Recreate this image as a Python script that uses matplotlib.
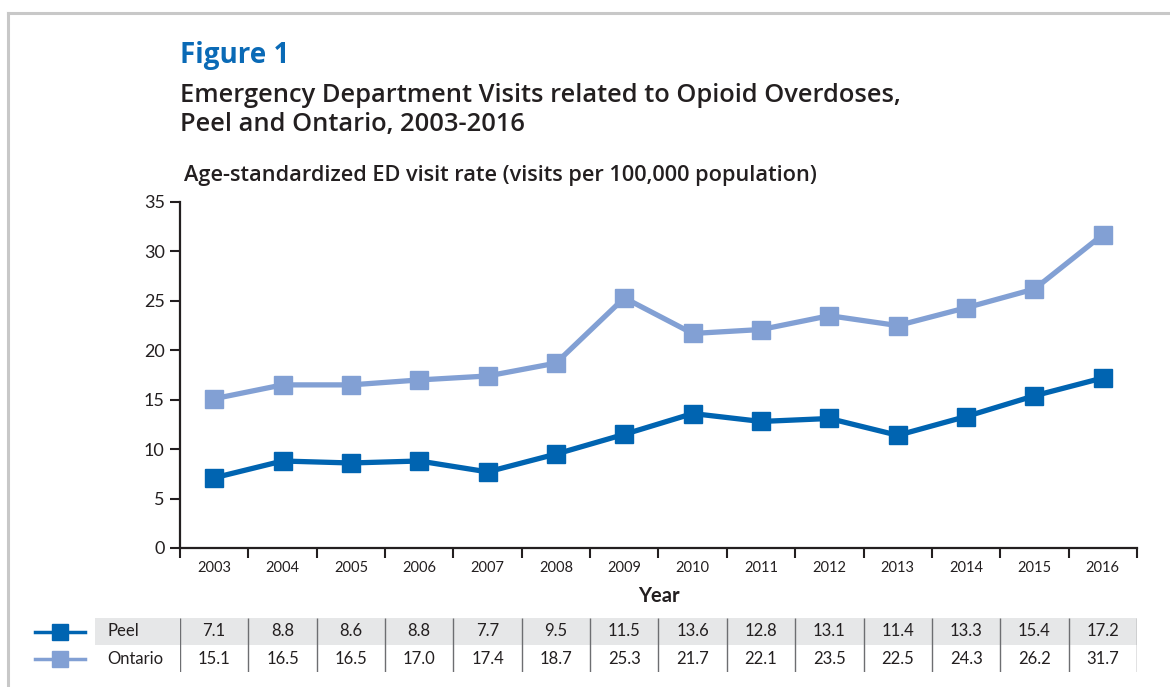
import matplotlib.pyplot as plt
from matplotlib.lines import Line2D
from matplotlib.patches import Rectangle

years = ["2003", "2004", "2005", "2006", "2007", "2008", "2009",
         "2010", "2011", "2012", "2013", "2014", "2015", "2016"]
peel = [7.1, 8.8, 8.6, 8.8, 7.7, 9.5, 11.5, 13.6, 12.8, 13.1, 11.4, 13.3, 15.4, 17.2]
ontario = [15.1, 16.5, 16.5, 17.0, 17.4, 18.7, 25.3, 21.7, 22.1, 23.5, 22.5, 24.3, 26.2, 31.7]
yticks = [0, 5, 10, 15, 20, 25, 30, 35]

PEEL_C = "#0064b1"
ONT_C = "#82a0d4"
DARK = "#231f20"
W, H = 1170, 687

plt.rcParams["font.family"] = ["Lato", "DejaVu Sans"]
HEAD = ["Open Sans", "DejaVu Sans"]

fig = plt.figure(figsize=(W / 100, H / 100), dpi=100)

# frame lines along the top and left
fig.add_artist(Line2D([8 / W, 1], [1 - 13 / H, 1 - 13 / H], color="#c8c8c8", lw=2.2))
fig.add_artist(Line2D([8 / W, 8 / W], [0, 1 - 13 / H], color="#c8c8c8", lw=2.2))

fig.text(180 / W, 1 - 55 / H, "Figure 1", color="#0a6ab6", fontsize=20,
         fontweight="bold", va="center", family=HEAD)
fig.text(180 / W, 1 - 96 / H, "Emergency Department Visits related to Opioid Overdoses,",
         color=DARK, fontsize=18.4, fontweight="semibold", va="center", family=HEAD)
fig.text(180 / W, 1 - 125 / H, "Peel and Ontario, 2003-2016",
         color=DARK, fontsize=18.4, fontweight="semibold", va="center", family=HEAD)
fig.text(184 / W, 1 - 176 / H, "Age-standardized ED visit rate (visits per 100,000 population)",
         color=DARK, fontsize=15.7, fontweight="semibold", va="center", family=HEAD)

ax = fig.add_axes([180 / W, 1 - 548 / H, 957 / W, 346 / H])
x = list(range(len(years)))
ax.plot(x, ontario, color=ONT_C, lw=3.8, marker="s", ms=12.5, clip_on=False, zorder=3)
ax.plot(x, peel, color=PEEL_C, lw=3.8, marker="s", ms=12.5, clip_on=False, zorder=4)

ax.set_xlim(-0.5, len(years) - 0.5)
ax.set_ylim(0, 35)
ax.set_yticks(yticks)
ax.set_xticks(x, years)
ax.set_xticks([i - 0.5 for i in range(len(years) + 1)], minor=True)
ax.tick_params(axis="x", which="major", length=0, pad=9, labelsize=10.5, labelcolor=DARK)
ax.tick_params(axis="x", which="minor", length=7, width=1.5, color=DARK, direction="out")
ax.tick_params(axis="y", length=7, width=1.5, color=DARK, pad=4, labelsize=13, labelcolor=DARK)
for s in ["top", "right"]:
    ax.spines[s].set_visible(False)
for s in ["left", "bottom"]:
    ax.spines[s].set_color(DARK)
    ax.spines[s].set_linewidth(1.6)
ax.set_xlabel("Year", fontsize=14.5, fontweight="bold", color=DARK, labelpad=8)

# data table under the chart, columns aligned with the years
tab = fig.add_axes([180 / W, 1 - 672 / H, 957 / W, 54 / H], sharex=ax)
tab.set_ylim(0, 2)
tab.axis("off")
lab_left = (95 - 180) / 68.36 - 0.5
tab.add_patch(Rectangle((lab_left, 1), len(years) - 0.5 - lab_left, 1,
                        facecolor="#e6e7e8", edgecolor="none", clip_on=False, zorder=0))
tab.vlines([i - 0.5 for i in range(len(years) + 1)], 0, 2, color="#6d6e71", lw=1, zorder=1)

rows = [("Peel", peel, PEEL_C, 1.5), ("Ontario", ontario, ONT_C, 0.5)]
key_x0 = (35 - 180) / 68.36 - 0.5
key_x1 = (85 - 180) / 68.36 - 0.5
for name, vals, col, yc in rows:
    tab.plot([key_x0, key_x1], [yc, yc], color=col, lw=2.5, clip_on=False)
    tab.plot([(key_x0 + key_x1) / 2], [yc], color=col, marker="s", ms=12, clip_on=False)
    tab.text((107 - 180) / 68.36 - 0.5, yc, name, fontsize=12, color=DARK, va="center")
    for i, v in enumerate(vals):
        tab.text(i, yc, f"{v:.1f}", fontsize=12, color=DARK, ha="center", va="center")

fig.savefig("out.png", dpi=100)
